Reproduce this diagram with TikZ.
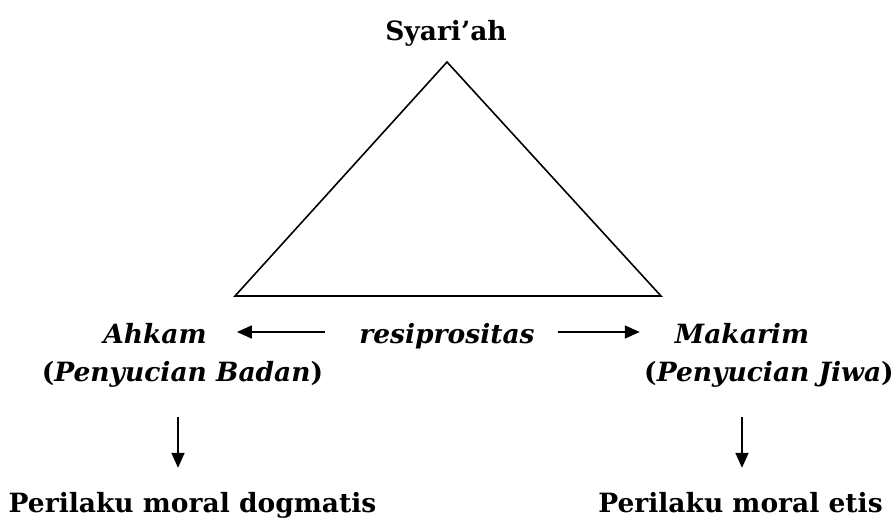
\documentclass[tikz,border=0pt]{standalone}
\usepackage{fontspec}
\setmainfont{DejaVu Serif}
\usetikzlibrary{arrows.meta}
\tikzset{
  lbl/.style={inner sep=0pt, anchor=base, text height=20pt, text depth=6pt, align=center,
              font=\fontsize{26.5}{30}\selectfont\bfseries},
  arr/.style={line width=1.6pt, -{Triangle[length=15pt,width=13pt]}},
  tri/.style={line width=1.6pt, line join=miter}
}
\begin{document}
\begin{tikzpicture}[x=1pt,y=-1pt]
\useasboundingbox (0,0) rectangle (896,517);
\node[lbl, minimum width=118] (syariah) at (446,40) {Syari’ah};
\draw[tri] (447,62) -- (235,296) -- (661,296) -- cycle;
\node[lbl, minimum width=100] (ahkam) at (155,343) {\itshape Ahkam};
\node[lbl, minimum width=170] (resip) at (447,343) {\itshape resiprositas};
\node[lbl, minimum width=128] (makarim) at (742,343) {\itshape Makarim};
\node[lbl, minimum width=271] (badan) at (182.5,381) {(\textit{Penyucian Badan})};
\node[lbl, minimum width=248] (jiwa) at (769,381) {(\textit{Penyucian Jiwa})};
\node[lbl, minimum width=361, text height=21pt] (dogm) at (192.5,512) {Perilaku moral dogmatis};
\node[lbl, minimum width=281, text height=21pt] (etis) at (740.5,512) {Perilaku moral etis};
\draw[arr, shorten <=34pt, shorten >=30pt] ([yshift=11]resip.base west) -- ([yshift=11]ahkam.base east);
\draw[arr, shorten <=23pt, shorten >=35pt] ([yshift=11]resip.base east) -- ([yshift=11]makarim.base west);
\draw[arr, shorten <=30pt, shorten >=23pt] ([xshift=-4.5]badan.south) -- ([xshift=-4.5]badan.south |- dogm.north);
\draw[arr, shorten <=30pt, shorten >=23pt] ([xshift=-27]jiwa.south) -- ([xshift=-27]jiwa.south |- etis.north);
\end{tikzpicture}
\end{document}
